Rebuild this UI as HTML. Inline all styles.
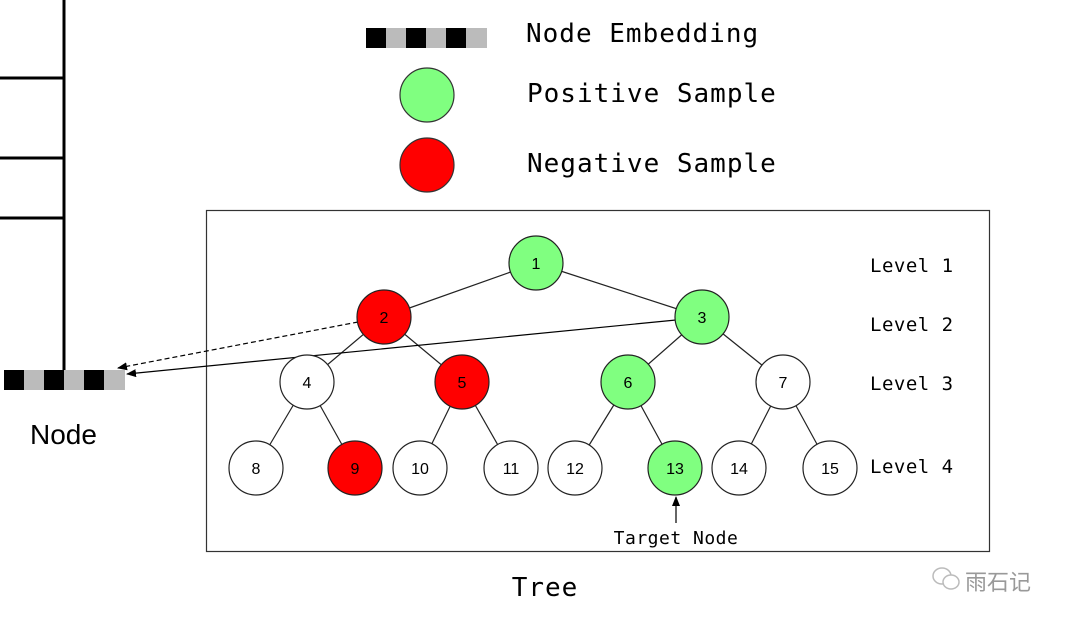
<!DOCTYPE html>
<html><head><meta charset="utf-8"><style>
body{margin:0;background:#fff;width:1080px;height:629px;overflow:hidden}
</style></head><body>
<svg width="1080" height="629" xmlns="http://www.w3.org/2000/svg">
<defs><marker id="a" markerWidth="10" markerHeight="8" refX="9" refY="4" orient="auto" markerUnits="userSpaceOnUse"><path d="M0,0L10,4L0,8z" fill="#000"/></marker></defs>
<g stroke="#000" stroke-width="3">
<line x1="64" y1="0" x2="64" y2="371"/>
<line x1="0" y1="78" x2="64" y2="78"/>
<line x1="0" y1="158" x2="64" y2="158"/>
<line x1="0" y1="218" x2="64" y2="218"/>
</g>
<g>
<rect x="4" y="370" width="20" height="20" fill="#000"/><rect x="24" y="370" width="20" height="20" fill="#bbb"/>
<rect x="44" y="370" width="20" height="20" fill="#000"/><rect x="64" y="370" width="20" height="20" fill="#bbb"/>
<rect x="84" y="370" width="20" height="20" fill="#000"/><rect x="104" y="370" width="21" height="20" fill="#bbb"/>
</g>
<g>
<rect x="366" y="28" width="20" height="20" fill="#000"/><rect x="386" y="28" width="20" height="20" fill="#bbb"/>
<rect x="406" y="28" width="20" height="20" fill="#000"/><rect x="426" y="28" width="20" height="20" fill="#bbb"/>
<rect x="446" y="28" width="20" height="20" fill="#000"/><rect x="466" y="28" width="21" height="20" fill="#bbb"/>
</g>
<circle cx="427" cy="95" r="27" fill="#80ff80" stroke="#333" stroke-width="1.2"/>
<circle cx="427" cy="165" r="27" fill="#ff0000" stroke="#333" stroke-width="1.2"/>
<g font-family="'DejaVu Sans Mono','Liberation Mono',monospace" font-size="26" fill="#000" letter-spacing="1">
<text x="526" y="42">Node Embedding</text>
<text x="527" y="102">Positive Sample</text>
<text x="527" y="172">Negative Sample</text>
<text x="545" y="596" text-anchor="middle">Tree</text>
</g>
<text x="30" y="444" font-family="'Liberation Sans',sans-serif" font-size="28">Node</text>
<rect x="206.5" y="210.5" width="783" height="341" fill="none" stroke="#333" stroke-width="1.2"/>
<g stroke="#222" stroke-width="1.2">
<line x1="536" y1="263" x2="384" y2="317"/><line x1="536" y1="263" x2="702" y2="317"/>
<line x1="384" y1="317" x2="307" y2="382"/><line x1="384" y1="317" x2="462" y2="382"/>
<line x1="702" y1="317" x2="628" y2="382"/><line x1="702" y1="317" x2="783" y2="382"/>
<line x1="307" y1="382" x2="256" y2="468"/><line x1="307" y1="382" x2="355" y2="468"/>
<line x1="462" y1="382" x2="420" y2="468"/><line x1="462" y1="382" x2="511" y2="468"/>
<line x1="628" y1="382" x2="575" y2="468"/><line x1="628" y1="382" x2="675" y2="468"/>
<line x1="783" y1="382" x2="739" y2="468"/><line x1="783" y1="382" x2="830" y2="468"/>
</g>
<line x1="358" y1="322" x2="118" y2="368" stroke="#000" stroke-width="1.2" stroke-dasharray="5,3" marker-end="url(#a)"/>
<line x1="676" y1="320" x2="127" y2="374" stroke="#000" stroke-width="1.2" marker-end="url(#a)"/>
<g stroke="#222" stroke-width="1.2">
<circle cx="536" cy="263" r="27" fill="#80ff80"/>
<circle cx="384" cy="317" r="27" fill="#ff0000"/>
<circle cx="702" cy="317" r="27" fill="#80ff80"/>
<circle cx="307" cy="382" r="27" fill="#fff"/>
<circle cx="462" cy="382" r="27" fill="#ff0000"/>
<circle cx="628" cy="382" r="27" fill="#80ff80"/>
<circle cx="783" cy="382" r="27" fill="#fff"/>
<circle cx="256" cy="468" r="27" fill="#fff"/>
<circle cx="355" cy="468" r="27" fill="#ff0000"/>
<circle cx="420" cy="468" r="27" fill="#fff"/>
<circle cx="511" cy="468" r="27" fill="#fff"/>
<circle cx="575" cy="468" r="27" fill="#fff"/>
<circle cx="675" cy="468" r="27" fill="#80ff80"/>
<circle cx="739" cy="468" r="27" fill="#fff"/>
<circle cx="830" cy="468" r="27" fill="#fff"/>
</g>
<g font-family="'Liberation Sans',sans-serif" font-size="16" text-anchor="middle" fill="#000">
<text x="536" y="269">1</text><text x="384" y="323">2</text><text x="702" y="323">3</text>
<text x="307" y="388">4</text><text x="462" y="388">5</text><text x="628" y="388">6</text><text x="783" y="388">7</text>
<text x="256" y="474">8</text><text x="355" y="474">9</text><text x="420" y="474">10</text><text x="511" y="474">11</text>
<text x="575" y="474">12</text><text x="675" y="474">13</text><text x="739" y="474">14</text><text x="830" y="474">15</text>
</g>
<line x1="676" y1="523" x2="676" y2="497" stroke="#000" stroke-width="1.2" marker-end="url(#a)"/>
<g font-family="'DejaVu Sans Mono','Liberation Mono',monospace" font-size="19" fill="#000" letter-spacing="0.5">
<text x="870" y="272">Level 1</text>
<text x="870" y="331">Level 2</text>
<text x="870" y="390">Level 3</text>
<text x="870" y="473">Level 4</text>
<text x="676" y="544" text-anchor="middle" font-size="18">Target Node</text>
</g>
<g fill="none" stroke="#bbb" stroke-width="1.5">
<ellipse cx="942" cy="576" rx="9" ry="8"/><ellipse cx="951" cy="582" rx="8" ry="7" fill="#fff"/>
</g>
<text x="965" y="590" font-family="'Noto Sans CJK SC',sans-serif" font-size="22" fill="#999">雨石记</text>
</svg>
</body></html>
